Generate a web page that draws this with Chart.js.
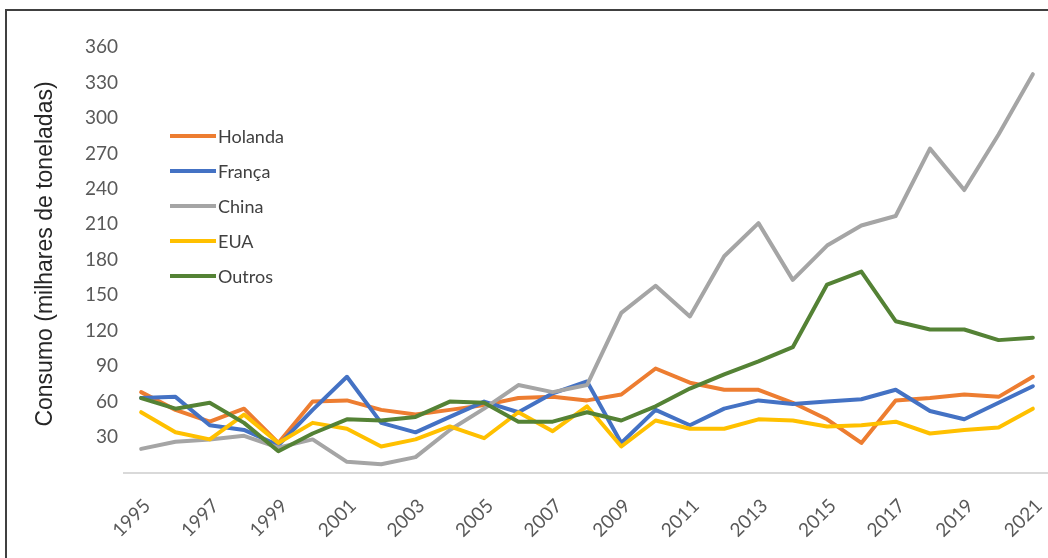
<!DOCTYPE html>
<html>
<head>
<meta charset="utf-8">
<script src="https://cdn.jsdelivr.net/npm/chart.js@4.4.1/dist/chart.umd.min.js"></script>
<style>
  html, body { margin: 0; padding: 0; background: #fff; overflow: hidden; width: 1048px; height: 558px; }
  #frame { position: absolute; left: 5px; top: 9px; width: 1100px; height: 600px;
           border-left: 2px solid #404040; border-top: 2px solid #404040; }
  #wrap { position: absolute; left: 0; top: 0; width: 1052px; height: 558px; }
</style>
</head>
<body>
<div id="frame"></div>
<div id="wrap"><canvas id="c"></canvas></div>
<script>
// Consumo anual por origem (milhares de toneladas), 1995-2021
const years = ['1995','1996','1997','1998','1999','2000','2001','2002','2003','2004','2005','2006','2007',
               '2008','2009','2010','2011','2012','2013','2014','2015','2016','2017','2018','2019','2020','2021'];
const holanda = [68, 53, 43, 54, 25, 60, 61, 53, 49, 53, 57, 63, 64, 61, 66, 88, 76, 70, 70, 59, 45, 25, 61, 63, 66, 64, 81];
const franca  = [63, 64, 40, 36, 23, 53, 81, 42, 34, 47, 60, 51, 67, 77, 25, 53, 40, 54, 61, 58, 60, 62, 70, 52, 45, 59, 73];
const china   = [20, 26, 28, 31, 21, 28, 9, 7, 13, 36, 54, 74, 68, 74, 135, 158, 132, 183, 211, 163, 192, 209, 217, 274, 239, 286, 337];
const eua     = [51, 34, 28, 49, 25, 42, 37, 22, 28, 39, 29, 51, 35, 56, 22, 44, 37, 37, 45, 44, 39, 40, 43, 33, 36, 38, 54];
const outros  = [63, 54, 59, 42, 18, 33, 45, 44, 47, 60, 59, 43, 43, 51, 44, 56, 71, 83, 94, 106, 159, 170, 128, 121, 121, 112, 114];
const yTicks  = [30, 60, 90, 120, 150, 180, 210, 240, 270, 300, 330, 360];
const yTitle  = 'Consumo (milhares de toneladas)';

const series = [
  { label: 'Holanda', data: holanda, color: '#ED7D31' },
  { label: 'França',  data: franca,  color: '#4472C4' },
  { label: 'China',   data: china,   color: '#A5A5A5' },
  { label: 'EUA',     data: eua,     color: '#FFC000' },
  { label: 'Outros',  data: outros,  color: '#548235' }
];

// legend box inside the plot and the rotated axis title
const overlay = {
  id: 'overlay',
  afterDraw(chart) {
    const ctx = chart.ctx;
    ctx.save();
    chart.data.datasets.forEach((ds, i) => {
      const y = 136 + i * 35;
      ctx.strokeStyle = ds.borderColor;
      ctx.lineWidth = 4;
      ctx.lineCap = 'butt';
      ctx.beginPath();
      ctx.moveTo(170, y);
      ctx.lineTo(216, y);
      ctx.stroke();
      ctx.fillStyle = '#404040';
      ctx.font = '18px Lato';
      ctx.textAlign = 'left';
      ctx.textBaseline = 'middle';
      ctx.fillText(ds.label, 218, y + 1);
    });
    ctx.translate(46, 254);
    ctx.rotate(-Math.PI / 2);
    ctx.textAlign = 'center';
    ctx.textBaseline = 'middle';
    ctx.font = '23px "Liberation Sans"';
    ctx.fillStyle = '#262626';
    ctx.fillText(yTitle, 0, 0);
    ctx.restore();
  }
};

new Chart(document.getElementById('c'), {
  type: 'line',
  data: {
    labels: years,
    datasets: series.map((s, i) => ({
      label: s.label,
      data: s.data,
      borderColor: s.color,
      backgroundColor: s.color,
      borderWidth: 4,
      borderJoinStyle: 'round',
      borderCapStyle: 'round',
      pointRadius: 0,
      tension: 0,
      fill: false,
      order: series.length - i
    }))
  },
  options: {
    responsive: true,
    maintainAspectRatio: false,
    animation: false,
    layout: { padding: { top: 47, right: 2, left: 0, bottom: 0 } },
    plugins: { legend: { display: false }, tooltip: { enabled: false } },
    scales: {
      x: {
        offset: true,
        grid: { display: false, drawTicks: false },
        border: { display: true, color: '#D9D9D9', width: 2 },
        ticks: {
          autoSkip: false,
          maxRotation: 45,
          minRotation: 45,
          padding: 22,
          labelOffset: 6,
          color: '#595959',
          font: { family: 'Lato', size: 19 },
          callback: function (v, i) { return i % 2 === 0 ? this.getLabelForValue(v) : ''; }
        },
        afterFit(scale) {
          scale.height = 85.5;
          scale.paddingLeft = 0;
          scale.paddingRight = 0;
        }
      },
      y: {
        min: 0,
        max: 360,
        grid: { display: false, drawTicks: false },
        border: { display: false },
        afterBuildTicks(scale) { scale.ticks = [{ value: 0 }].concat(yTicks.map(v => ({ value: v }))); },
        ticks: {
          padding: 6,
          color: '#595959',
          font: { family: 'Lato', size: 19 },
          callback: v => (v === 0 ? '' : String(v))
        },
        afterFit(scale) { scale.width = 124; }
      }
    }
  },
  plugins: [overlay]
});
</script>
</body>
</html>
